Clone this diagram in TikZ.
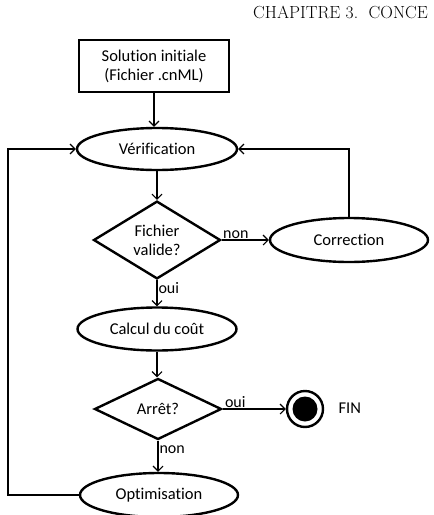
\documentclass[tikz,border=0pt]{standalone}
\usepackage{fontspec}
\newfontfamily\flowfont[Ligatures={NoCommon}]{Carlito}
\usetikzlibrary{shapes.geometric,arrows.meta}
\begin{document}
\begin{tikzpicture}[x=1pt,y=-1pt,
  every node/.style={font=\flowfont\fontsize{16.5}{19}\selectfont},
  shapeline/.style={draw, line width=2.4pt, inner sep=0pt},
  boxnode/.style={shapeline, rectangle, minimum width=150pt, minimum height=52pt, align=center},
  ellnode/.style={shapeline, ellipse, minimum width=158pt, minimum height=42pt},
  dianode/.style={shapeline, diamond, minimum width=127pt, minimum height=60pt, align=center},
  conn/.style={line width=1.1pt, -{Straight Barb[length=5pt,width=10pt,line width=1.1pt]}},
  lbl/.style={font=\flowfont\fontsize{16}{18}\selectfont, inner sep=1pt}
]
\useasboundingbox (0,0) rectangle (434,515);
\node[anchor=base west, font=\fontsize{17.5}{20}\selectfont, inner sep=0pt] (hdr) at (253,18) {CHAPITRE 3.\ \ CONCE};

\node[boxnode] (init) at (154,66) {Solution initiale\\(Fichier .cnML)};
\node[ellnode, minimum width=160pt] (verif) at (157,149) {Vérification};
\node[dianode] (valid) at (157,240) {Fichier\\valide?};
\node[ellnode, minimum height=44pt] (corr) at (349,240) {Correction};
\node[ellnode, minimum width=159pt, minimum height=43pt] (cout) at (157,329) {Calcul du coût};
\node[dianode, minimum height=61pt] (arret) at (158,409) {Arrêt?};
\node[circle, draw, line width=2.4pt, minimum size=36pt, inner sep=0pt] (fin) at (305,409) {};
\fill (fin.center) circle (12.5pt);
\node[anchor=west] (fintxt) at (335,408) {FIN};
\node[ellnode, minimum height=44pt] (optim) at (159,495) {Optimisation};

\coordinate (cornerTR) at (349,149);
\coordinate (cornerBL) at (8,495);
\coordinate (cornerTL) at (8,149);

\draw[conn] (init.south) -- (init.south |- verif.north);
\draw[conn] (verif.south) -- (verif.south |- valid.north);
\draw[conn] (valid.east) -- (corr.west) node[lbl, pos=0.3, above] {non};
\draw[conn] (corr.north) -- (cornerTR) -- (verif.east);
\draw[conn] (valid.south) -- (valid.south |- cout.north) node[lbl, pos=0.3, right] {oui};
\draw[conn] (cout.south) -- (cout.south |- arret.north);
\draw[conn] (arret.east) -- (fin.west) node[lbl, pos=0.2, above] {oui};
\draw[conn] (arret.south) -- (arret.south |- optim.north) node[lbl, pos=0.3, right] {non};
\draw[conn] (optim.west) -- (cornerBL) -- (cornerTL) -- (verif.west);
\end{tikzpicture}
\end{document}
